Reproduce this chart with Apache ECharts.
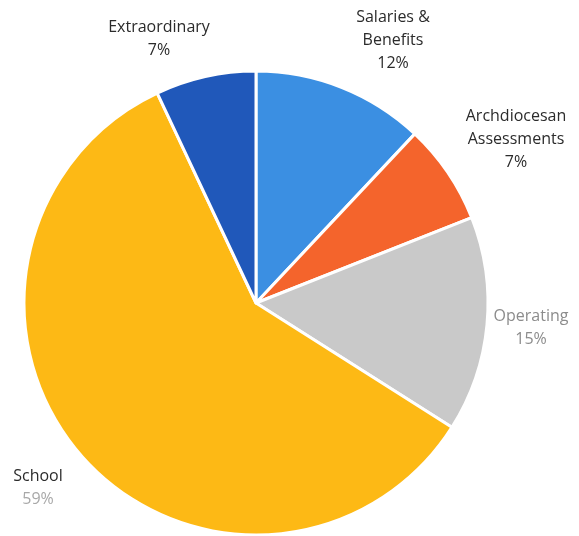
<!DOCTYPE html>
<html>
<head>
<meta charset="utf-8">
<script src="https://cdn.jsdelivr.net/npm/echarts@6/dist/echarts.min.js"></script>
<style>html,body{margin:0;padding:0;background:#fff}#c{width:579px;height:536px}</style>
</head>
<body>
<div id="c"></div>
<script>
const categories = ['Salaries &\nBenefits', 'Archdiocesan\nAssessments', 'Operating', 'School', 'Extraordinary'];
const values = [12, 7, 15, 59, 7];
const colors = ['#3b8fe2', '#f4642c', '#c9c9c9', '#fdb915', '#2058ba'];
const nameColors = ['#2b2b2b', '#2b2b2b', '#8c8c8c', '#2b2b2b', '#2b2b2b'];
const pctColors = ['#2b2b2b', '#2b2b2b', '#8c8c8c', '#a8a8a8', '#2b2b2b'];
const labelPos = [[393, 40], [516, 139], [531, 328], [38, 488], [159, 39]];

const chart = echarts.init(document.getElementById('c'));
const rich = {};
categories.forEach((c, i) => {
  rich['n' + i] = { color: nameColors[i], fontFamily: 'Open Sans', fontSize: 16, lineHeight: 23 };
  rich['p' + i] = { color: pctColors[i], fontFamily: 'Open Sans', fontSize: 16, lineHeight: 23 };
});
chart.setOption({
  animation: false,
  series: [{
    type: 'pie',
    center: [256, 303],
    radius: 232,
    startAngle: 90,
    clockwise: true,
    itemStyle: { borderColor: '#fff', borderWidth: 3 },
    labelLine: { show: false },
    label: {
      show: true,
      position: 'outside',
      formatter: function (p) {
        const i = p.dataIndex;
        const lines = p.name.split('\n').map(s => '{n' + i + '|' + s + '}');
        lines.push('{p' + i + '|' + p.value + '%}');
        return lines.join('\n');
      },
      rich: rich,
      align: 'center',
      fontFamily: 'Open Sans',
      fontSize: 16,
      lineHeight: 23,
      overflow: 'none',
      width: 200
    },
    labelLayout: function (p) {
      const pos = labelPos[p.dataIndex];
      return { x: pos[0], y: pos[1], align: 'center', verticalAlign: 'middle' };
    },
    data: categories.map((c, i) => ({
      name: c,
      value: values[i],
      itemStyle: { color: colors[i] }
    }))
  }]
});
</script>
</body>
</html>
